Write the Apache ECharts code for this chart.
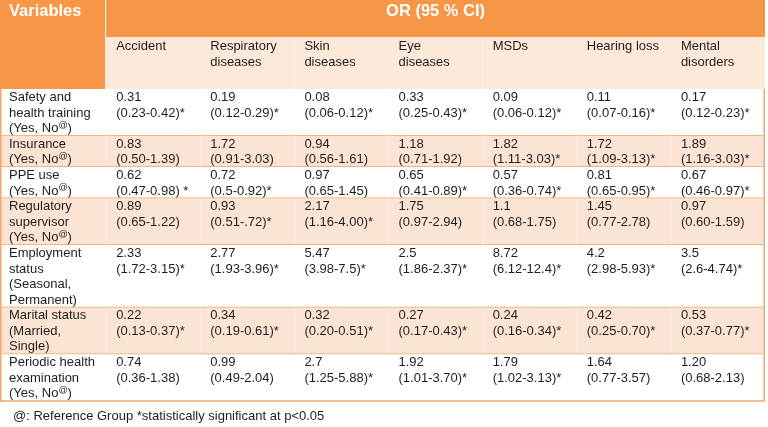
<!DOCTYPE html>
<html><head><meta charset="utf-8">
<script src="https://cdn.jsdelivr.net/npm/echarts@6/dist/echarts.min.js"></script>
<style>html,body{margin:0;padding:0;background:#fff}#c{width:768px;height:427px}</style>
</head><body><div id="c"></div>
<script>
// ---------- data ----------
const headerVariables = "Variables";
const headerOR = "OR (95 % CI)";
const categories = ["Accident", "Respiratory\ndiseases", "Skin\ndiseases", "Eye\ndiseases", "MSDs", "Hearing loss", "Mental\ndisorders"];
const variables = [
  "Safety and\nhealth training\n(Yes, No@)",
  "Insurance\n(Yes, No@)",
  "PPE use\n(Yes, No@)",
  "Regulatory\nsupervisor\n(Yes, No@)",
  "Employment\nstatus\n(Seasonal,\nPermanent)",
  "Marital status\n(Married,\nSingle)",
  "Periodic health\nexamination\n(Yes, No@)"
];
const orAccident    = ["0.31", "0.83", "0.62", "0.89", "2.33", "0.22", "0.74"];
const ciAccident    = ["(0.23-0.42)*", "(0.50-1.39)", "(0.47-0.98) *", "(0.65-1.22)", "(1.72-3.15)*", "(0.13-0.37)*", "(0.36-1.38)"];
const orRespiratory = ["0.19", "1.72", "0.72", "0.93", "2.77", "0.34", "0.99"];
const ciRespiratory = ["(0.12-0.29)*", "(0.91-3.03)", "(0.5-0.92)*", "(0.51-.72)*", "(1.93-3.96)*", "(0.19-0.61)*", "(0.49-2.04)"];
const orSkin        = ["0.08", "0.94", "0.97", "2.17", "5.47", "0.32", "2.7"];
const ciSkin        = ["(0.06-0.12)*", "(0.56-1.61)", "(0.65-1.45)", "(1.16-4.00)*", "(3.98-7.5)*", "(0.20-0.51)*", "(1.25-5.88)*"];
const orEye         = ["0.33", "1.18", "0.65", "1.75", "2.5", "0.27", "1.92"];
const ciEye         = ["(0.25-0.43)*", "(0.71-1.92)", "(0.41-0.89)*", "(0.97-2.94)", "(1.86-2.37)*", "(0.17-0.43)*", "(1.01-3.70)*"];
const orMSDs        = ["0.09", "1.82", "0.57", "1.1", "8.72", "0.24", "1.79"];
const ciMSDs        = ["(0.06-0.12)*", "(1.11-3.03)*", "(0.36-0.74)*", "(0.68-1.75)", "(6.12-12.4)*", "(0.16-0.34)*", "(1.02-3.13)*"];
const orHearing     = ["0.11", "1.72", "0.81", "1.45", "4.2", "0.42", "1.64"];
const ciHearing     = ["(0.07-0.16)*", "(1.09-3.13)*", "(0.65-0.95)*", "(0.77-2.78)", "(2.98-5.93)*", "(0.25-0.70)*", "(0.77-3.57)"];
const orMental      = ["0.17", "1.89", "0.67", "0.97", "3.5", "0.53", "1.20"];
const ciMental      = ["(0.12-0.23)*", "(1.16-3.03)*", "(0.46-0.97)*", "(0.60-1.59)", "(2.6-4.74)*", "(0.37-0.77)*", "(0.68-2.13)"];
const footnote = "@: Reference Group *statistically significant at p<0.05";

const orColumns = [orAccident, orRespiratory, orSkin, orEye, orMSDs, orHearing, orMental];
const ciColumns = [ciAccident, ciRespiratory, ciSkin, ciEye, ciMSDs, ciHearing, ciMental];

// ---------- layout (in table units: 1 data column wide, 1 text line high) ----------
const FONT = "'Liberation Sans', Arial, sans-serif";
const ORANGE = '#F79646', PEACH_HEAD = '#FDE9D9', PEACH = '#FCE4D5', WHITE = '#FFFFFF';
const LINE_COL = '#F5A56B', TEXT = '#1e1e1e';
const H1 = 2.37, H2 = 3.34;
const VAR_W = 106 / 94;
const rowLines = variables.map(v => v.split('\n').length);
const rowStart = [H1 + H2];
rowLines.forEach((n, i) => rowStart.push(rowStart[i] + n));
const yMax = rowStart[rowStart.length - 1];
const colStart = [0, VAR_W];
categories.forEach((c, i) => colStart.push(VAR_W + i + 1));
const xMax = colStart[colStart.length - 1];

const sup = s => s.replace(/@/g, '{s|@}');
const cells = [];
cells.push({x0: 0, x1: VAR_W, y0: 0, y1: H1 + H2, fill: ORANGE, kind: 'headVar', text: headerVariables});
cells.push({x0: VAR_W, x1: xMax, y0: 0, y1: H1, fill: ORANGE, kind: 'headOR', text: headerOR});
categories.forEach((c, i) => cells.push({x0: colStart[i + 1], x1: colStart[i + 2], y0: H1, y1: H1 + H2, fill: PEACH_HEAD, kind: 'headCat', text: c, col: i + 1}));
variables.forEach((v, r) => {
  const fill = r % 2 === 1 ? PEACH : WHITE;
  cells.push({x0: 0, x1: VAR_W, y0: rowStart[r], y1: rowStart[r + 1], fill, kind: 'data', text: sup(v), col: 0, row: r});
  orColumns.forEach((col, c) => {
    cells.push({x0: colStart[c + 1], x1: colStart[c + 2], y0: rowStart[r], y1: rowStart[r + 1], fill, kind: 'data',
      text: col[r] + '\n' + ciColumns[c][r], col: c + 1, row: r});
  });
});

function renderItem(params, api) {
  const cell = cells[params.dataIndex];
  const p0 = api.coord([api.value(0), api.value(1)]);
  const p1 = api.coord([api.value(2), api.value(3)]);
  const lineH = api.size([0, 1])[1];
  const x = p0[0], y = p0[1], w = p1[0] - p0[0], h = p1[1] - p0[1];
  const ch = [{type: 'rect', shape: {x, y, width: w, height: h}, style: {fill: cell.fill}}];
  if (cell.kind === 'headVar') {
    ch.push({type: 'text', style: {x: x + 9, y: 11.5, text: cell.text, fill: '#fff', fontFamily: FONT, fontSize: 16.5, fontWeight: 'bold', verticalAlign: 'middle'}});
    ch.push({type: 'line', shape: {x1: x + w, y1: y, x2: x + w, y2: y + h}, style: {stroke: '#fff', lineWidth: 2}});
  } else if (cell.kind === 'headOR') {
    ch.push({type: 'text', style: {x: x + w / 2, y: 11.5, text: cell.text, fill: '#fff', fontFamily: FONT, fontSize: 16.5, fontWeight: 'bold', align: 'center', verticalAlign: 'middle'}});
  } else if (cell.kind === 'headCat') {
    ch.push({type: 'text', style: {x: x + 10, y: y + 2, text: cell.text, fill: TEXT, fontFamily: FONT, fontSize: 13, lineHeight: lineH, verticalAlign: 'top'}});
  } else {
    ch.push({type: 'text', style: {x: x + (cell.col === 0 ? 9 : 10), y: y + 0.5, text: cell.text, fill: TEXT, fontFamily: FONT, fontSize: 13, lineHeight: lineH, verticalAlign: 'top',
      rich: {s: {fontSize: 9, fill: TEXT, fontFamily: FONT, verticalAlign: 'top', lineHeight: lineH, padding: [0, 0, 0, 0]}}}});
    if (cell.fill !== WHITE && cell.col > 0) {
      ch.push({type: 'line', shape: {x1: x + 0.5, y1: y, x2: x + 0.5, y2: y + h}, style: {stroke: 'rgba(255,255,255,0.35)', lineWidth: 1}});
    }
    ch.push({type: 'line', shape: {x1: x, y1: y + h, x2: x + w, y2: y + h}, style: {stroke: LINE_COL, lineWidth: 1.5}});
    if (cell.col === 0) ch.push({type: 'line', shape: {x1: x + 0.75, y1: y, x2: x + 0.75, y2: y + h}, style: {stroke: LINE_COL, lineWidth: 1.5}});
    if (cell.col === categories.length) ch.push({type: 'line', shape: {x1: x + w - 0.75, y1: y, x2: x + w - 0.75, y2: y + h}, style: {stroke: LINE_COL, lineWidth: 1.5}});
  }
  return {type: 'group', children: ch};
}

const chart = echarts.init(document.getElementById('c'), null, {renderer: 'canvas'});
chart.setOption({
  animation: false,
  backgroundColor: '#fff',
  title: {text: footnote, left: 13, top: 410, padding: 0, textStyle: {fontSize: 13, fontWeight: 'normal', color: TEXT, fontFamily: FONT}},
  grid: {left: 0, top: 0, width: 765, height: 401},
  xAxis: {type: 'value', min: 0, max: xMax, show: false},
  yAxis: {type: 'value', min: 0, max: yMax, inverse: true, show: false},
  series: [{
    type: 'custom',
    renderItem,
    clip: false,
    encode: {x: [0, 2], y: [1, 3]},
    data: cells.map(c => [c.x0, c.y0, c.x1, c.y1])
  }]
});
</script></body></html>
